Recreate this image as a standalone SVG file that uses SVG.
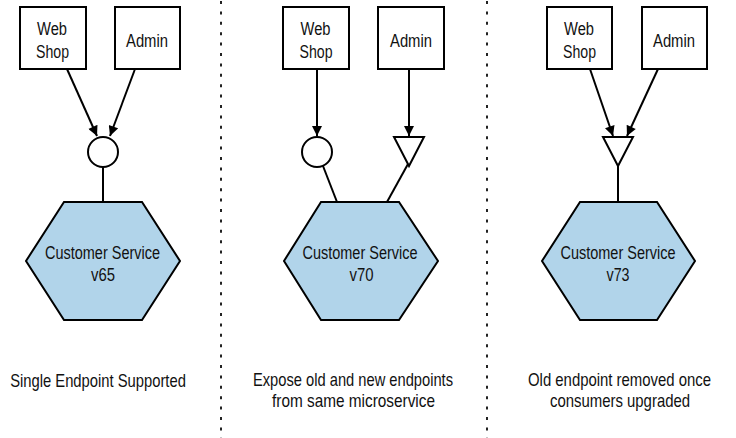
<svg xmlns="http://www.w3.org/2000/svg" width="736" height="438" viewBox="0 0 736 438">
<defs>
<marker id="arr" viewBox="0 0 10 10" refX="10" refY="5" markerWidth="6" markerHeight="5" markerUnits="strokeWidth" orient="auto">
<path d="M0,0 L10,5 L0,10 z" fill="#000"/>
</marker>
<style>
.box{fill:#fff;stroke:#000;stroke-width:2}
.hex{fill:#b1d4ea;stroke:#000;stroke-width:2}
.ep{fill:#fff;stroke:#000;stroke-width:2}
.t{font-family:"Liberation Sans",Arial,sans-serif;font-size:18px;fill:#111;text-anchor:middle}
.c{stroke:#000;stroke-width:2;fill:none}
.a{stroke:#000;stroke-width:2;fill:none;marker-end:url(#arr)}
.sep{stroke:#222;stroke-width:2;stroke-dasharray:3 7.4}
</style>
</defs>
<rect width="736" height="438" fill="#fff"/>
<g id="separators">
<line class="sep" x1="221" y1="1" x2="221" y2="438"/>
<line class="sep" x1="487" y1="1" x2="487" y2="438"/>
</g>
<g id="connectors">
<line class="a" x1="67" y1="69" x2="97" y2="136"/>
<line class="a" x1="135" y1="69" x2="110" y2="136"/>
<line class="c" x1="103" y1="167" x2="103" y2="202"/>
<line class="a" x1="317" y1="69" x2="317" y2="136"/>
<line class="a" x1="409" y1="69" x2="409" y2="136"/>
<line class="c" x1="323" y1="166" x2="337" y2="202"/>
<line class="c" x1="408" y1="164" x2="387" y2="202"/>
<line class="a" x1="590" y1="69" x2="613" y2="136"/>
<line class="a" x1="658" y1="69" x2="627" y2="136"/>
<line class="c" x1="618" y1="166" x2="618" y2="202"/>
</g>
<g id="p1-webshop"><rect class="box" x="20" y="7" width="66" height="62"/><text class="t" x="52" y="35" textLength="30" lengthAdjust="spacingAndGlyphs">Web</text><text class="t" x="52.5" y="58" textLength="33" lengthAdjust="spacingAndGlyphs">Shop</text></g>
<g id="p1-admin"><rect class="box" x="115" y="7" width="65" height="62"/><text class="t" x="147" y="46.5" textLength="42" lengthAdjust="spacingAndGlyphs">Admin</text></g>
<g id="p1-endpoint"><circle class="ep" cx="103" cy="152" r="15"/></g>
<g id="p1-service"><polygon class="hex" points="64,202 142,202 180,261 142,320 64,320 26,261"/><text class="t" x="102.5" y="259" textLength="115" lengthAdjust="spacingAndGlyphs">Customer Service</text><text class="t" x="103" y="281" textLength="24" lengthAdjust="spacingAndGlyphs">v65</text></g>
<g id="p2-webshop"><rect class="box" x="283" y="7" width="66" height="62"/><text class="t" x="315.5" y="35" textLength="30" lengthAdjust="spacingAndGlyphs">Web</text><text class="t" x="316" y="58" textLength="33" lengthAdjust="spacingAndGlyphs">Shop</text></g>
<g id="p2-admin"><rect class="box" x="378" y="7" width="66" height="62"/><text class="t" x="411" y="46.5" textLength="42" lengthAdjust="spacingAndGlyphs">Admin</text></g>
<g id="p2-endpoint-old"><circle class="ep" cx="317" cy="152" r="15"/></g>
<g id="p2-endpoint-new"><polygon class="ep" points="394,137 424,137 409,166"/></g>
<g id="p2-service"><polygon class="hex" points="321,202 399,202 438,261 399,320 321,320 284,261"/><text class="t" x="360" y="259" textLength="115" lengthAdjust="spacingAndGlyphs">Customer Service</text><text class="t" x="361.5" y="281" textLength="24" lengthAdjust="spacingAndGlyphs">v70</text></g>
<g id="p3-webshop"><rect class="box" x="547" y="7" width="65" height="62"/><text class="t" x="579" y="35" textLength="30" lengthAdjust="spacingAndGlyphs">Web</text><text class="t" x="579.5" y="58" textLength="33" lengthAdjust="spacingAndGlyphs">Shop</text></g>
<g id="p3-admin"><rect class="box" x="642" y="7" width="65" height="62"/><text class="t" x="674" y="46.5" textLength="42" lengthAdjust="spacingAndGlyphs">Admin</text></g>
<g id="p3-endpoint"><polygon class="ep" points="603,137 633,137 618,166"/></g>
<g id="p3-service"><polygon class="hex" points="580,202 657,202 695,261 657,320 580,320 542,261"/><text class="t" x="618" y="259" textLength="115" lengthAdjust="spacingAndGlyphs">Customer Service</text><text class="t" x="618" y="281" textLength="23" lengthAdjust="spacingAndGlyphs">v73</text></g>
<g id="captions">
<text class="t" transform="translate(98,386.5) scale(0.81,1)" textLength="217" lengthAdjust="spacingAndGlyphs">Single Endpoint Supported</text>
<text class="t" transform="translate(353,386) scale(0.81,1)" textLength="247" lengthAdjust="spacingAndGlyphs">Expose old and new endpoints</text>
<text class="t" transform="translate(353.5,406.5) scale(0.81,1)" textLength="201" lengthAdjust="spacingAndGlyphs">from same microservice</text>
<text class="t" transform="translate(619.5,386) scale(0.81,1)" textLength="226" lengthAdjust="spacingAndGlyphs">Old endpoint removed once</text>
<text class="t" transform="translate(620,406.5) scale(0.81,1)" textLength="173" lengthAdjust="spacingAndGlyphs">consumers upgraded</text>
</g>
</svg>
